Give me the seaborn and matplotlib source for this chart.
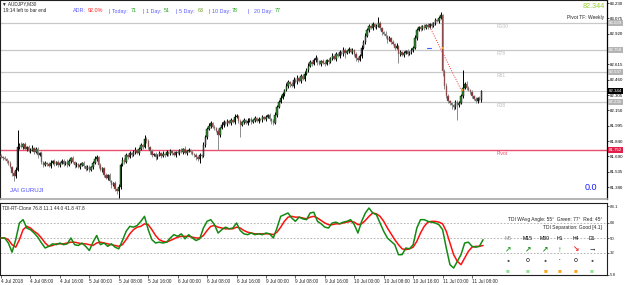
import numpy as np
import pandas as pd
import matplotlib
matplotlib.use("Agg")
import matplotlib.pyplot as plt
import matplotlib.transforms as mtransforms
import seaborn as sns

# AUDJPY M30 candles, 4 Jul 2018 00:00 -> 11 Jul 2018 10:30
first_open = 81.69
closes = [
    81.68, 81.67, 81.66, 81.64, 81.62, 81.58, 81.52, 81.49, 81.55, 81.78, 81.80, 81.78, 81.81, 81.76, 81.78, 81.74,
    81.75, 81.77, 81.73, 81.76, 81.70, 81.72, 81.63, 81.60, 81.62, 81.61, 81.59, 81.62, 81.64, 81.61, 81.63, 81.60,
    81.62, 81.64, 81.61, 81.63, 81.60, 81.64, 81.67, 81.63, 81.60, 81.61, 81.58, 81.60, 81.62, 81.59, 81.56, 81.58,
    81.55, 81.58, 81.62, 81.66, 81.68, 81.60, 81.55, 81.57, 81.50, 81.47, 81.50, 81.44, 81.40, 81.42, 81.36, 81.34,
    81.38, 81.60, 81.65, 81.63, 81.70, 81.68, 81.72, 81.70, 81.73, 81.75, 81.72, 81.76, 81.80, 81.78, 81.86, 81.84,
    81.78, 81.74, 81.70, 81.71, 81.68, 81.70, 81.72, 81.69, 81.71, 81.70, 81.73, 81.71, 81.74, 81.72, 81.70, 81.73,
    81.72, 81.75, 81.73, 81.76, 81.72, 81.74, 81.75, 81.73, 81.71, 81.70, 81.68, 81.66, 81.70, 81.69, 81.80, 81.88,
    81.96, 81.99, 82.02, 81.98, 81.97, 81.94, 81.90, 81.97, 82.00, 82.03, 82.01, 82.04, 82.02, 82.05, 82.03, 82.08,
    82.09, 82.04, 82.00, 82.03, 82.05, 82.02, 82.04, 82.06, 82.03, 82.05, 82.07, 82.04, 82.06, 82.05, 82.08, 82.06,
    82.08, 82.10, 82.06, 82.04, 82.02, 82.10, 82.18, 82.24, 82.28, 82.32, 82.36, 82.40, 82.44, 82.42, 82.40, 82.46,
    82.44, 82.48, 82.45, 82.50, 82.47, 82.52, 82.56, 82.60, 82.64, 82.62, 82.66, 82.68, 82.64, 82.62, 82.65, 82.63,
    82.62, 82.66, 82.64, 82.68, 82.70, 82.67, 82.72, 82.70, 82.74, 82.72, 82.76, 82.73, 82.75, 82.77, 82.74, 82.76,
    82.72, 82.68, 82.66, 82.70, 82.78, 82.84, 82.90, 82.96, 83.00, 82.98, 83.02, 82.99, 83.00, 83.03, 82.98, 82.94,
    82.92, 82.90, 82.86, 82.88, 82.84, 82.82, 82.78, 82.80, 82.72, 82.74, 82.71, 82.73, 82.75, 82.72, 82.74, 82.76,
    82.78, 82.88, 82.96, 82.99, 82.97, 83.00, 82.98, 83.01, 82.99, 83.02, 83.00, 83.03, 83.06, 83.05, 83.08, 83.11,
    82.55, 82.40, 82.30, 82.25, 82.22, 82.20, 82.18, 82.24, 82.20, 82.22, 82.30, 82.38, 82.42, 82.38, 82.36, 82.34,
    82.30, 82.27, 82.25, 82.28, 82.26, 82.344,
]
# wicks in pips above / below the body
upper_wick = [
    2, 1, 2, 1, 1, 2, 1, 2, 3, 17, 2, 3, 1, 2, 1, 2,
    2, 3, 1, 2, 2, 1, 2, 1, 2, 1, 2, 3, 1, 2, 1, 2,
    1, 2, 2, 1, 3, 2, 1, 2, 1, 2, 1, 2, 1, 2, 1, 2,
    2, 1, 2, 3, 2, 1, 2, 1, 1, 2, 1, 2, 1, 1, 2, 1,
    3, 2, 3, 2, 2, 1, 2, 1, 2, 3, 1, 2, 2, 1, 4, 2,
    2, 1, 2, 1, 2, 1, 2, 1, 3, 1, 2, 1, 2, 1, 2, 1,
    2, 1, 2, 1, 3, 1, 2, 1, 2, 1, 2, 1, 2, 1, 3, 2,
    2, 3, 2, 1, 2, 1, 2, 1, 3, 2, 1, 2, 1, 2, 1, 3,
    2, 1, 2, 1, 2, 1, 3, 1, 2, 1, 2, 1, 2, 1, 2, 1,
    2, 1, 2, 1, 2, 3, 2, 2, 3, 2, 1, 3, 2, 1, 2, 3,
    2, 3, 1, 2, 2, 3, 2, 3, 2, 1, 2, 3, 1, 2, 1, 2,
    2, 1, 2, 1, 3, 1, 2, 1, 2, 1, 3, 2, 1, 2, 1, 2,
    1, 2, 1, 2, 3, 2, 3, 2, 2, 1, 2, 1, 2, 6, 2, 1,
    1, 3, 1, 2, 1, 2, 1, 3, 1, 2, 1, 2, 1, 2, 1, 2,
    2, 3, 2, 1, 2, 1, 2, 1, 2, 1, 2, 1, 2, 1, 2, 3,
    1, 2, 3, 2, 1, 2, 1, 2, 2, 3, 2, 18, 2, 3, 2, 1,
    2, 1, 2, 1, 2, 1,
]
lower_wick = [
    1, 2, 1, 2, 2, 1, 3, 5, 2, 1, 2, 1, 2, 1, 2, 1,
    2, 1, 2, 1, 3, 1, 2, 2, 1, 2, 1, 2, 1, 2, 1, 2,
    2, 1, 2, 1, 2, 1, 2, 1, 3, 2, 1, 2, 1, 2, 2, 1,
    2, 1, 2, 1, 2, 3, 1, 2, 2, 1, 2, 1, 3, 1, 2, 3,
    7, 2, 1, 2, 1, 2, 1, 2, 1, 2, 1, 2, 1, 2, 1, 2,
    2, 3, 2, 1, 3, 2, 1, 2, 1, 2, 1, 2, 1, 2, 1, 2,
    1, 2, 1, 2, 1, 2, 1, 2, 1, 2, 3, 2, 4, 2, 1, 2,
    2, 1, 2, 1, 2, 1, 15, 2, 1, 2, 1, 2, 1, 2, 1, 2,
    1, 2, 12, 1, 2, 1, 2, 1, 2, 1, 2, 1, 2, 1, 2, 1,
    2, 1, 2, 3, 2, 1, 2, 1, 2, 1, 2, 1, 2, 3, 1, 2,
    1, 2, 1, 2, 1, 2, 1, 2, 1, 2, 1, 2, 3, 1, 2, 1,
    2, 1, 2, 1, 2, 1, 2, 1, 2, 1, 2, 5, 1, 2, 1, 2,
    2, 3, 2, 1, 2, 1, 2, 1, 2, 1, 2, 1, 2, 1, 2, 3,
    1, 2, 3, 1, 2, 1, 2, 1, 9, 2, 1, 2, 1, 2, 1, 2,
    2, 1, 2, 1, 2, 1, 2, 1, 2, 1, 2, 1, 2, 1, 2, 1,
    5, 3, 2, 3, 2, 4, 3, 2, 15, 2, 1, 2, 1, 2, 1, 2,
    2, 1, 2, 3, 1, 2,
]

# TDI lines, one reading every second bar
tdi_green = [
    50, 50, 44, 33, 48, 68, 72, 62, 60, 56, 51, 44, 38, 40, 43, 42, 44, 42, 43, 50,
    42, 41, 44, 40, 35, 45, 53, 42, 44, 40, 43, 39, 37, 47, 58, 64, 63, 65, 70, 76,
    60, 48, 44, 45, 44, 45, 50, 54, 52, 55, 49, 54, 50, 47, 49, 62, 70, 72, 66, 56,
    60, 63, 61, 62, 68, 59, 55, 54, 56, 54, 55, 54, 56, 55, 50, 62, 76, 78, 80, 74,
    70, 75, 73, 72, 80, 81, 70, 67, 63, 62, 68, 69, 67, 69, 70, 72, 66, 56, 70, 80,
    86, 80, 78, 68, 58, 50, 46, 42, 30, 30, 38, 37, 42, 62, 72, 72, 70, 69, 68, 66,
    60, 38, 18, 14, 22, 30, 44, 45, 40, 39, 40, 48,
]
tdi_red = [
    50, 50, 48, 42, 39, 48, 60, 64, 62, 58, 55, 50, 44, 40, 41, 43, 43, 43, 44, 45,
    45, 44, 43, 43, 42, 41, 44, 45, 44, 43, 42, 41, 40, 42, 48, 55, 60, 63, 64, 67,
    66, 60, 53, 48, 46, 45, 47, 49, 51, 52, 52, 52, 51, 50, 50, 53, 59, 64, 65, 63,
    62, 61, 61, 61, 63, 62, 59, 57, 56, 55, 55, 55, 55, 55, 54, 57, 63, 70, 75, 76,
    75, 75, 74, 73, 75, 76, 74, 71, 68, 66, 66, 67, 67, 68, 69, 70, 69, 66, 67, 71,
    76, 80, 79, 76, 70, 62, 55, 48, 42, 37, 36, 37, 39, 46, 56, 64, 69, 70, 70, 69,
    67, 58, 44, 30, 22, 18, 26, 34, 39, 40, 40, 41,
]

date_labels = ["4 Jul 2018", "4 Jul 08:00", "4 Jul 16:00", "5 Jul 00:00", "5 Jul 08:00",
               "5 Jul 16:00", "6 Jul 00:00", "6 Jul 08:00", "6 Jul 16:00", "9 Jul 00:00",
               "9 Jul 08:00", "9 Jul 16:00", "10 Jul 00:00", "10 Jul 08:00", "10 Jul 16:00",
               "11 Jul 00:00", "11 Jul 08:00"]
price_ticks = [83.230, 83.075, 82.920, 82.765, 82.615, 82.460, 82.305, 82.150,
               81.995, 81.840, 81.690, 81.535, 81.380]
tdi_ticks = [88.1, 68, 50, 32, 5.8]
tdi_levels = [68, 50, 32]

level_names = ["R100", "R78", "R61", "R38"]
level_values = [83.029, 82.758, 82.537, 82.235]
pivot_value = 81.752
bid = 82.344

trend_bars = [233, 250]
trend_prices = [82.99, 82.36]
marker_bars = [240, 250.5]
marker_prices = [82.78, 82.36]

adr_parts = [("ADR:", "b"), ("92.0%", "r"), ("| Today:", "b"), ("71", "g"), ("| 1 Day:", "b"), ("51", "g"),
             ("| 5 Day:", "b"), ("63", "o"), ("| 10 Day:", "b"), ("78", "g"), ("|", "b"),
             ("20 Day:", "b"), ("77", "g")]
adr_x = [73, 88, 109, 131, 143, 164, 176, 198, 209, 232, 247, 254, 275]

tf_names = ["M5", "M15", "M30", "H1", "H4", "D1"]
tf_x = [508, 528, 545, 560, 576, 592]
tf_arrows = ["↗", "↗", "↗", "↑", "↘", "→"]
tf_arrow_colors = ["#2ea02e", "#1f8f1f", "#1f8f1f", "#1f8f1f", "#ff1a1a", "#000000"]
tf_marks = ["●", "O", "●", "•", "O", "●"]
tf_squares = ["#8fe08f", "#8fe08f", "#ffa31a", "#ffa31a", "#ffa31a", "#8fe08f"]

sns.set_theme(style="white")
plt.rcParams["font.family"] = ["Liberation Sans", "DejaVu Sans"]

W, H = 625, 285
fig = plt.figure(figsize=(W / 100, H / 100), dpi=100)
fig.patch.set_facecolor("white")


def fx(x):
    return x / W


def fy(y):
    return 1 - y / H


px_per_bar = 1.84
x0 = -1 / px_per_bar
x1 = (607 - 1) / px_per_bar

ax = fig.add_axes([0, fy(199), 607 / W, 199 / H])
ax2 = fig.add_axes([0, fy(275), 607 / W, 72 / H], sharex=ax)

# ---- candles ----
df = pd.DataFrame({"close": closes})
df["bar"] = np.arange(len(df))
df["open"] = [first_open] + closes[:-1]
df["high"] = df[["open", "close"]].max(axis=1) + np.array(upper_wick) * 0.01
df["low"] = df[["open", "close"]].min(axis=1) - np.array(lower_wick) * 0.01
df["body"] = (df["close"] - df["open"]).where((df["close"] - df["open"]).abs() > 0.004, 0.004)
up = df["close"] >= df["open"]

ax.vlines(df.loc[up, "bar"], df.loc[up, "low"], df.loc[up, "high"], color="black", lw=0.7, zorder=3)
ax.vlines(df.loc[~up, "bar"], df.loc[~up, "low"], df.loc[~up, "high"], color="#8c8c8c", lw=0.7, zorder=3)
ax.bar(df.loc[up, "bar"], df.loc[up, "body"], bottom=df.loc[up, "open"], width=0.75,
       color="#2f8a2f", edgecolor="black", lw=0.3, zorder=4)
ax.bar(df.loc[~up, "bar"], df.loc[~up, "body"], bottom=df.loc[~up, "open"], width=0.75,
       color="#8e1f1f", edgecolor="#8c8c8c", lw=0.3, zorder=4)

# levels
for v in level_values:
    ax.axhline(v, color="#c8c8c8", lw=0.9, zorder=1)
ax.axhline(pivot_value, color="#e8506e", lw=1.0, zorder=1)
ax.axhline(bid, color="#c8c8c8", lw=0.6, zorder=1)
for name, v in zip(level_names, level_values):
    ax.text(496 / px_per_bar, v - 0.035, name, fontsize=3.6, color="#c0c0c0", va="center")
ax.text(496 / px_per_bar, pivot_value - 0.035, "Pivot", fontsize=3.6, color="#e8506e", va="center")

ax.plot(trend_bars, trend_prices, color="#ff3030", lw=0.7, ls=(0, (1, 1.5)), zorder=5)
ax.scatter(marker_bars, marker_prices, s=3, marker="s", color="#ffa020", zorder=6, lw=0)
ax.plot([231.5, 233.5], [82.78, 82.78], color="#4060ff", lw=0.8, zorder=6)

ax.set_xlim(x0, x1)
ax.set_ylim(83.230 - 196 * 0.01005, 83.230 + 3 * 0.01005)
ax.yaxis.tick_right()
ax.set_yticks(price_ticks)
ax.set_yticklabels([f"{t:.3f}" for t in price_ticks])
ax.tick_params(axis="y", labelsize=3.2, length=1.5, width=0.5, pad=0.8, colors="black", right=True)
ax.tick_params(axis="x", bottom=False, labelbottom=False)
for s in ["left", "top"]:
    ax.spines[s].set_color("#202020")
    ax.spines[s].set_linewidth(0.8)
ax.spines["right"].set_color("black")
ax.spines["right"].set_linewidth(0.9)
ax.spines["bottom"].set_color("#a8a8a8")
ax.spines["bottom"].set_linewidth(1.2)

# boxed price labels on the axis
blend = mtransforms.blended_transform_factory(ax.transAxes, ax.transData)
for v in level_values:
    ax.text(1.003, v, f"{v:.3f}", transform=blend, fontsize=3.2, color="white", va="center", ha="left",
            bbox=dict(facecolor="#b4b4b4", edgecolor="none", pad=0.6), clip_on=False, zorder=10)
ax.text(1.003, bid, f"{bid:.3f}", transform=blend, fontsize=3.2, color="white", va="center", ha="left",
        bbox=dict(facecolor="black", edgecolor="none", pad=0.6), clip_on=False, zorder=10)
ax.text(1.003, pivot_value, f"{pivot_value:.3f}", transform=blend, fontsize=3.2, color="white",
        va="center", ha="left", bbox=dict(facecolor="#e0204a", edgecolor="none", pad=0.6),
        clip_on=False, zorder=10)

# ---- TDI panel ----
tdi = pd.DataFrame({"bar": np.arange(0, 2 * len(tdi_green), 2), "green": tdi_green, "red": tdi_red})
for lv in tdi_levels:
    ax2.axhline(lv, color="#a8a8a8", lw=0.6, ls=(0, (2, 2)), zorder=1)
sns.lineplot(data=tdi, x="bar", y="red", ax=ax2, color="#ff1010", lw=1.1, zorder=3)
sns.lineplot(data=tdi, x="bar", y="green", ax=ax2, color="#138a13", lw=1.1, zorder=4)
ax2.set_ylim(5.6, 92)
ax2.set_xlim(x0, x1)
ax2.set_xlabel("")
ax2.set_ylabel("")
ax2.yaxis.tick_right()
ax2.set_yticks(tdi_ticks)
ax2.set_yticklabels(["88.1", "68", "50", "32", "5.8"])
ax2.tick_params(axis="y", labelsize=3.2, length=1.5, width=0.5, pad=0.8, right=True)
ax2.set_xticks(np.arange(0, 16 * len(date_labels), 16))
ax2.set_xticklabels(date_labels, ha="left")
ax2.tick_params(axis="x", labelsize=3.4, length=2, width=0.5, pad=1.2, bottom=True)
for lab in ax2.get_xticklabels():
    lab.set_horizontalalignment("left")
for s in ["left", "top", "right", "bottom"]:
    ax2.spines[s].set_color("#202020")
    ax2.spines[s].set_linewidth(0.8)

fig.text(fx(2), fy(209), "TDI-RT-Clone 76.8 11.1 44.0 41.8 47.8", fontsize=3.4, va="center")
fig.text(fx(602), fy(219), "TDI WAvg Angle: 55°  Green: 77°  Red: 45°", fontsize=3.5, ha="right", va="center")
fig.text(fx(602), fy(227), "TDI Separation: Good [4.1]", fontsize=3.5, ha="right", va="center")
for i, name in enumerate(tf_names):
    fig.text(fx(tf_x[i]), fy(239), name, fontsize=3.7, ha="center", va="center",
             color="#909090" if i == 0 else "black")
    fig.text(fx(tf_x[i]), fy(250), tf_arrows[i], fontsize=5.5, ha="center", va="center",
             color=tf_arrow_colors[i], fontweight="bold")
    fig.text(fx(tf_x[i]), fy(261), tf_marks[i], fontsize=3.6 if tf_marks[i] != "•" else 3.0,
             ha="center", va="center", color="#505050" if tf_marks[i] != "O" else "#303030",
             fontweight="bold")
    fig.text(fx(tf_x[i]), fy(271), "■", fontsize=4.5, ha="center", va="center", color=tf_squares[i])

# ---- header texts ----
fig.text(fx(2), fy(3.5), "▼ AUDJPY,M30", fontsize=3.4, va="center")
fig.text(fx(3), fy(10.5), "19:14 left to bar end", fontsize=3.4, va="center")
adr_colors = {"b": "#5a5aff", "r": "#ff2020", "g": "#20a020", "o": "#6b9e23"}
for (txt, c), x in zip(adr_parts, adr_x):
    fig.text(fx(x), fy(11), txt, fontsize=3.9, color=adr_colors[c], va="center")
fig.text(fx(605), fy(6), "82.344", fontsize=5.2, color="#9acd32", ha="right", va="center")
fig.text(fx(604), fy(17), "Pivot TF: Weekly", fontsize=3.5, ha="right", va="center")
fig.text(fx(597), fy(187), "0.0", fontsize=6.5, color="#1a1aff", ha="right", va="center")
fig.text(fx(10), fy(191), "JAI GURUJI", fontsize=4.4, color="#4a4aff", va="center")

fig.savefig("out.png", dpi=100)
